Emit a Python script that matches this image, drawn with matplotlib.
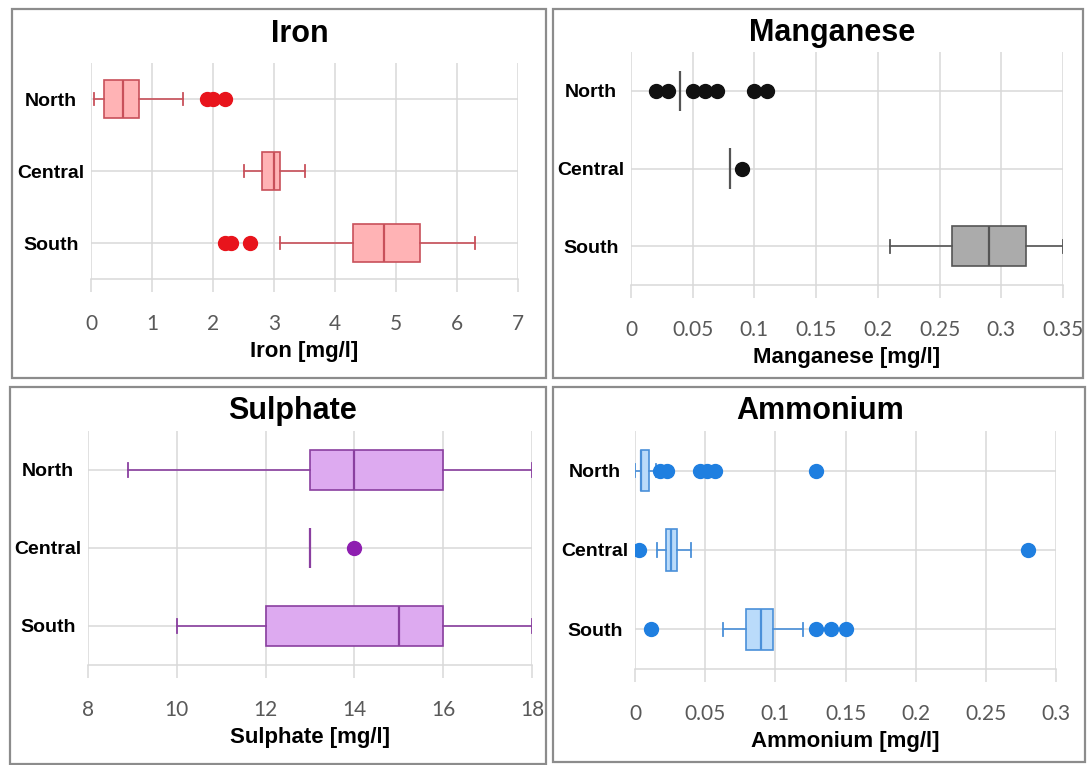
import matplotlib
matplotlib.use("Agg")
import matplotlib.pyplot as plt
from matplotlib import font_manager, ticker
from matplotlib.patches import Rectangle

# categorias (de cima para baixo)
regions = ["North", "Central", "South"]

# Iron [mg/l]
iron_lo = [0.05, 2.5, 3.1]
iron_q1 = [0.22, 2.8, 4.3]
iron_med = [0.52, 3.0, 4.8]
iron_q3 = [0.78, 3.1, 5.4]
iron_hi = [1.5, 3.5, 6.3]
iron_out = [[1.9, 2.0, 2.2], [], [2.2, 2.3, 2.6]]

# Manganese [mg/l]
mn_lo = [0.04, 0.08, 0.21]
mn_q1 = [0.04, 0.08, 0.26]
mn_med = [0.04, 0.08, 0.29]
mn_q3 = [0.04, 0.08, 0.32]
mn_hi = [0.04, 0.08, 0.35]
mn_out = [[0.02, 0.03, 0.05, 0.06, 0.07, 0.10, 0.11], [0.09], []]

# Sulphate [mg/l]
so4_lo = [8.9, 13.0, 10.0]
so4_q1 = [13.0, 13.0, 12.0]
so4_med = [14.0, 13.0, 15.0]
so4_q3 = [16.0, 13.0, 16.0]
so4_hi = [18.0, 13.0, 18.0]
so4_out = [[], [14.0], []]

# Ammonium [mg/l]
nh4_lo = [0.0, 0.016, 0.063]
nh4_q1 = [0.004, 0.022, 0.079]
nh4_med = [0.004, 0.026, 0.0895]
nh4_q3 = [0.010, 0.030, 0.098]
nh4_hi = [0.015, 0.040, 0.120]
nh4_out = [[0.018, 0.023, 0.046, 0.051, 0.057, 0.129],
           [0.003, 0.28],
           [0.0115, 0.129, 0.14, 0.15]]

W, H = 1087, 765
names = {f.name for f in font_manager.fontManager.ttflist}
BOLDFONT = "Liberation Sans"
TICKFONT = "Lato" if "Lato" in names else "DejaVu Sans"
GRID = "#D9D9D9"

fig = plt.figure(figsize=(W / 100, H / 100), dpi=100)


def axes_px(x0, y0, x1, y1):
    return fig.add_axes([x0 / W, 1 - y1 / H, (x1 - x0) / W, (y1 - y0) / H])


def frame_px(x0, y0, x1, y1):
    fig.add_artist(Rectangle((x0 / W, 1 - y1 / H), (x1 - x0) / W, (y1 - y0) / H,
                             transform=fig.transFigure, fill=False,
                             edgecolor="#8C8C8C", linewidth=1.6))


def panel(ax, lo, q1, med, q3, hi, out, face, edge, dot, xlim, step, xlabel):
    stats = []
    for i in range(len(regions)):
        stats.append(dict(whislo=lo[i], q1=q1[i], med=med[i], q3=q3[i],
                          whishi=hi[i], fliers=out[i]))
    ax.bxp(stats, positions=[0.5, 1.5, 2.5], orientation="horizontal",
           widths=0.52, capwidths=0.17, patch_artist=True, showfliers=True,
           boxprops=dict(facecolor=face, edgecolor=edge, linewidth=1.2),
           medianprops=dict(color=edge, linewidth=1.6),
           whiskerprops=dict(color=edge, linewidth=1.2),
           capprops=dict(color=edge, linewidth=1.3),
           flierprops=dict(marker="o", markerfacecolor=dot, markeredgecolor=dot,
                           markersize=10))
    ax.set_ylim(3, 0)
    ax.set_yticks([0.5, 1.5, 2.5], regions)
    ax.set_xlim(*xlim)
    ax.xaxis.set_major_locator(ticker.MultipleLocator(step))
    ax.xaxis.set_major_formatter(ticker.FuncFormatter(lambda v, p: f"{v:g}"))
    ax.grid(True, color=GRID, linewidth=1.1)
    ax.set_axisbelow(True)
    for s in ["top", "left", "right"]:
        ax.spines[s].set_visible(False)
    ax.spines["bottom"].set_color(GRID)
    ax.spines["bottom"].set_linewidth(1.1)
    ax.tick_params(axis="x", length=9.5, width=1.1, color=GRID,
                   labelcolor="#595959", labelsize=15, pad=16)
    ax.tick_params(axis="y", length=0, pad=29, labelsize=14)
    for lbl in ax.get_xticklabels():
        lbl.set_fontfamily(TICKFONT)
    for lbl in ax.get_yticklabels():
        lbl.set_horizontalalignment("center")
        lbl.set_fontfamily(BOLDFONT)
        lbl.set_fontweight("bold")
    ax.set_xlabel(xlabel, fontsize=16, fontweight="bold", family=BOLDFONT,
                  labelpad=5)


# molduras dos quatro paineis
frame_px(12, 9, 546, 378)
frame_px(553, 9, 1083, 378)
frame_px(10, 387, 546, 764)
frame_px(553, 387, 1085, 762)

ax1 = axes_px(91, 63, 518, 279)
panel(ax1, iron_lo, iron_q1, iron_med, iron_q3, iron_hi, iron_out,
      "#FFB3B5", "#C8505A", "#E8141C", (0, 7), 1, "Iron [mg/l]")

ax2 = axes_px(631, 52, 1063, 285)
panel(ax2, mn_lo, mn_q1, mn_med, mn_q3, mn_hi, mn_out,
      "#ABABAB", "#555555", "#111111", (0, 0.35), 0.05, "Manganese [mg/l]")

ax3 = axes_px(88, 431, 532, 665)
panel(ax3, so4_lo, so4_q1, so4_med, so4_q3, so4_hi, so4_out,
      "#DDAAF0", "#8A3FA0", "#8E1EB0", (8, 18), 2, "Sulphate [mg/l]")

ax4 = axes_px(635, 431, 1056, 669)
panel(ax4, nh4_lo, nh4_q1, nh4_med, nh4_q3, nh4_hi, nh4_out,
      "#BADBFA", "#4A90D9", "#1F7FE0", (0, 0.3), 0.05, "Ammonium [mg/l]")

# titulos
for title, x, y in [("Iron", 300, 34), ("Manganese", 832, 33),
                    ("Sulphate", 292, 411), ("Ammonium", 820, 411)]:
    fig.text(x / W, 1 - y / H, title, ha="center", va="center",
             fontsize=22, fontweight="bold", family="Liberation Sans")

fig.savefig("out.png", dpi=100)
